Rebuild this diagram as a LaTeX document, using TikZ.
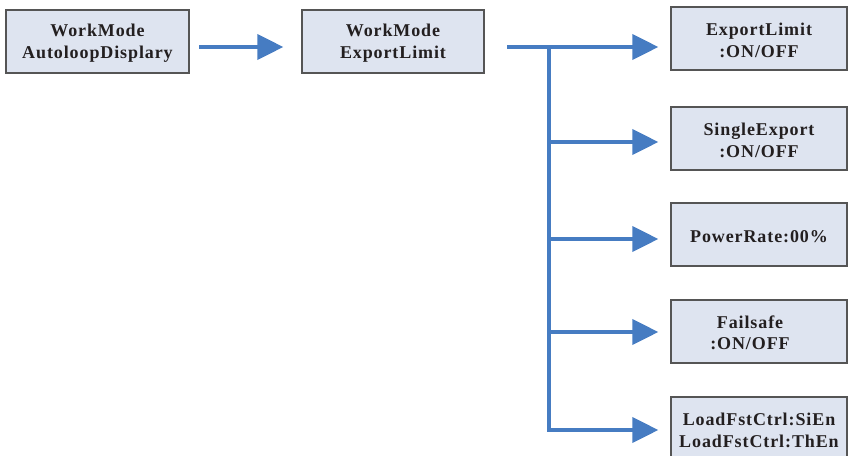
\documentclass[tikz,border=0pt]{standalone}
\usepackage{fontspec}
\setmainfont{Liberation Serif}[LetterSpace=5]
\usetikzlibrary{arrows.meta,calc}
\definecolor{boxfill}{RGB}{222,228,240}
\definecolor{boxborder}{RGB}{85,85,85}
\definecolor{arrblue}{RGB}{70,124,194}
\definecolor{txt}{RGB}{35,31,32}
\begin{document}
\begin{tikzpicture}[x=1pt,y=-1pt,
  box/.style={draw=boxborder, line width=1.3pt, fill=boxfill, minimum height=63pt,
    inner sep=0pt, align=center, text=txt, font=\fontsize{18}{21.5}\selectfont\bfseries},
  lbox/.style={box, minimum width=183pt},
  rbox/.style={box, minimum width=176pt},
  conn/.style={draw=arrblue, line width=3.8pt},
  arr/.style={conn, -{Triangle[length=26pt,width=25pt]}}]
\useasboundingbox (0,0) rectangle (848,455);
\clip (0,0) rectangle (848,455);
\node[lbox] (b1) at (97.5,41.5) {\rule{0pt}{16pt}WorkMode\\AutoloopDisplary};
\node[lbox, minimum width=182pt] (b2) at (393,41.5) {\rule{0pt}{16pt}WorkMode\\ExportLimit};
\node[rbox] (r1) at (759,38.5) {\rule{0pt}{16pt}ExportLimit\\:ON/OFF};
\node[rbox] (r2) at (759,138.5) {\rule{0pt}{16pt}SingleExport\\:ON/OFF};
\node[rbox] (r3) at (759,234.5) {\rule{0pt}{16pt}PowerRate:00\%};
\node[rbox] (r4) at (759,331.5) {};
\node[text=txt, align=center, inner sep=0pt, font=\fontsize{18}{21.5}\selectfont\bfseries] (t4) at ([xshift=-9pt,yshift=-1.5pt]r4.center) {Failsafe\\:ON/OFF};
\node[rbox] (r5) at (759,428.5) {\rule{0pt}{16pt}LoadFstCtrl:SiEn\\LoadFstCtrl:ThEn};
% connectors
\coordinate (a0) at (199,47);
\coordinate (s0) at (507,47);
\coordinate (j1) at (549,47);
\coordinate (j2) at (549,142);
\coordinate (j3) at (549,239);
\coordinate (j4) at (549,332);
\coordinate (j5) at (549,430);
\draw[arr] (a0) -- ($(b2.west |- a0)+(-18,0)$);
\draw[arr] (s0) -- ($(r1.west |- s0)+(-12,0)$);
\draw[arr] (j1) -- (j5) -- ($(r5.west |- j5)+(-12,0)$);
\draw[arr] (j2) -- ($(r2.west |- j2)+(-12,0)$);
\draw[arr] (j3) -- ($(r3.west |- j3)+(-12,0)$);
\draw[arr] (j4) -- ($(r4.west |- j4)+(-12,0)$);
\end{tikzpicture}
\end{document}
